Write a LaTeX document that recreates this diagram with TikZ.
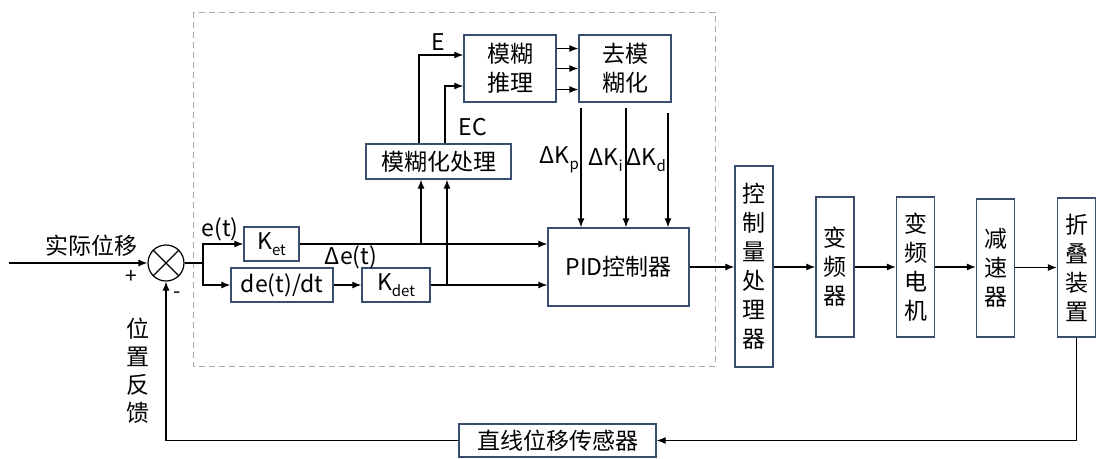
\documentclass[tikz,border=0pt]{standalone}
\usepackage{fontspec}
\setmainfont{Noto Sans CJK SC}
\usetikzlibrary{arrows.meta,calc}
\definecolor{boxc}{HTML}{3A4F70}
\definecolor{dashc}{HTML}{A8A8A8}
\newcommand\mysub[1]{\raisebox{-0.45ex}{\fontsize{15}{15}\selectfont #1}}
\begin{document}
\begin{tikzpicture}[x=1pt,y=-1pt,
  font=\fontsize{23}{29}\selectfont,
  blk/.style={draw=boxc,line width=1.3pt,inner sep=0pt,align=center},
  arr/.style={line width=1.2pt,-{Latex[length=9pt,width=7pt]}},
  ln/.style={line width=1.2pt},
  lbl/.style={inner sep=0pt}]
\useasboundingbox (0,0) rectangle (1097,458);
\draw[dashc,line width=1pt,dash pattern=on 6pt off 4pt] (193,12) rectangle (715,366);
% summing junction
\node[draw,circle,line width=1.2pt,minimum size=36pt,inner sep=0pt] (sum) at (166,263) {};
\draw[line width=1.2pt] (sum.north west) -- (sum.south east) (sum.north east) -- (sum.south west);
\coordinate (in) at (9,263);
\coordinate (j1) at (203,263);
% blocks
\node[blk,minimum width=55pt,minimum height=34pt] (Ket) at (271.5,244) {K\mysub{et}};
\node[blk,minimum width=102pt,minimum height=34pt] (dedt) at (282,285) {de(t)/dt};
\node[blk,minimum width=68pt,minimum height=34pt] (Kdet) at (396,285) {K\mysub{det}};
\node[blk,minimum width=141pt,minimum height=78pt] (PID) at (618.5,267) {PID控制器};
\node[blk,minimum width=145pt,minimum height=35pt] (fuzz) at (438.5,161.5) {模糊化处理};
\node[blk,minimum width=92pt,minimum height=67pt] (infer) at (510,68.5) {模糊\\推理};
\node[blk,minimum width=92pt,minimum height=67pt] (defuzz) at (625,68.5) {去模\\糊化};
\node[blk,minimum width=38pt,minimum height=201pt] (ctrl) at (754,266.5) {控\\制\\量\\处\\理\\器};
\node[blk,minimum width=38pt,minimum height=140pt] (vfd) at (835,267) {变\\频\\器};
\node[blk,minimum width=38pt,minimum height=140pt] (motor) at (915.5,267) {变\\频\\电\\机};
\node[blk,minimum width=38pt,minimum height=138pt] (red) at (995.5,268) {减\\速\\器};
\node[blk,minimum width=38pt,minimum height=139pt] (fold) at (1076.5,267.5) {折\\叠\\装\\置};
\node[blk,minimum width=197pt,minimum height=33pt] (sensor) at (557.5,440.5) {直线位移传感器};
% labels
\node[lbl] (lin) at (91,246) {实际位移};
\node[lbl,font=\fontsize{21}{21}\selectfont] (plus) at (131,277) {+};
\node[lbl,font=\fontsize{21}{21}\selectfont] (minus) at (177,295) {-};
\node[lbl] (let) at (220,229) {e(t)};
\node[lbl] (lde) at (351,257) {Δe(t)};
\node[lbl] (lE) at (438,42) {E};
\node[lbl] (lEC) at (473,127) {EC};
\node[lbl,align=center,font=\fontsize{23}{28}\selectfont] (lfb) at (138,371) {位\\置\\反\\馈};
% connectors
\draw[arr] (in) -- (sum.west);
\draw[ln] (sum.east) -- (j1);
\draw[arr] (j1) |- (Ket.west);
\draw[arr] (j1) |- (dedt.west);
\draw[arr] (dedt) -- (Kdet);
\draw[arr] (Ket.east) -- (PID.west |- Ket.east);
\draw[arr] (Kdet.east) -- (PID.west |- Kdet.east);
\coordinate (b1) at (421,244);
\coordinate (b2) at (447,285);
\draw[arr] (b1) -- (b1 |- fuzz.south);
\draw[arr] (b2) -- (b2 |- fuzz.south);
\coordinate (e1) at (419,0);
\coordinate (e2) at (445,0);
\draw[arr] (fuzz.north -| e1) |- ([yshift=13.5pt]infer.west);
\draw[arr] (fuzz.north -| e2) |- ([yshift=-17.5pt]infer.west);
\draw[arr] ([yshift=20pt]infer.east) -- ([yshift=20pt]defuzz.west);
\draw[arr] (infer.east) -- (defuzz.west);
\draw[arr] ([yshift=-21pt]infer.east) -- ([yshift=-21pt]defuzz.west);
\coordinate (dk) at ([yshift=-5pt]defuzz.south);
\coordinate (kp) at (581,0);
\coordinate (ki) at (626,0);
\coordinate (kd) at (668,0);
\draw[arr] (dk -| kp) -- (PID.north -| kp);
\draw[arr] (dk -| ki) -- (PID.north -| ki);
\draw[arr] ([yshift=-5pt]dk -| kd) -- (PID.north -| kd);
\node[lbl,anchor=east] (lkp) at (579,160) {ΔK\mysub{p}};
\node[lbl,anchor=east] (lki) at (623,160) {ΔK\mysub{i}};
\node[lbl,anchor=east] (lkd) at (666,160) {ΔK\mysub{d}};
\draw[arr] (PID.east) -- (ctrl.west |- PID.east);
\draw[arr] (ctrl.east |- vfd.west) -- (vfd.west);
\draw[arr] (vfd.east) -- (motor.west);
\draw[arr] (motor.east) -- (red.west |- motor.east);
\draw[arr] (red.east |- fold.west) -- (fold.west);
\draw[arr] (fold.south) |- (sensor.east);
\draw[arr] (sensor.west) -| (sum.south);
\end{tikzpicture}
\end{document}
